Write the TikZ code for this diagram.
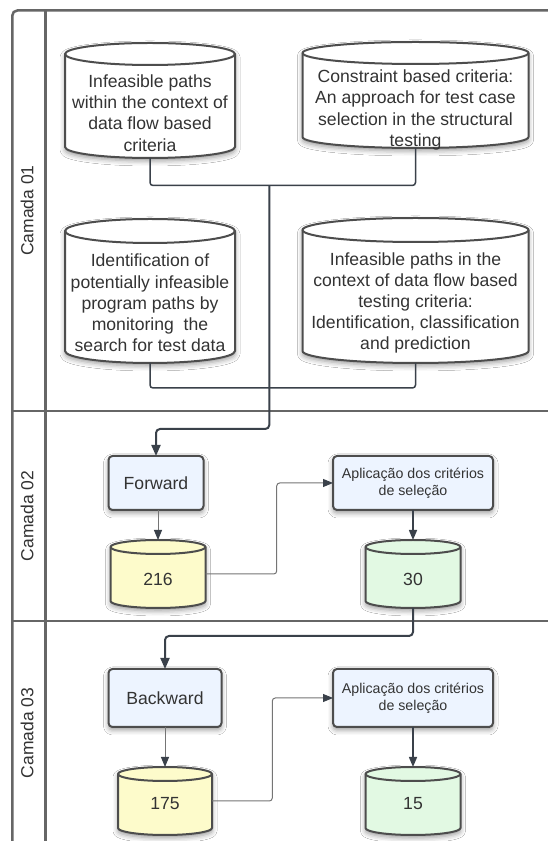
\documentclass[tikz,border=0pt]{standalone}
\usepackage{fontspec}
\setmainfont{Liberation Sans}
\usetikzlibrary{arrows.meta,shadows.blur,calc}

\definecolor{framegray}{HTML}{666666}
\definecolor{inkdark}{HTML}{3A414A}
\definecolor{inkgray}{HTML}{757575}
\definecolor{shapeline}{HTML}{4D4D4D}
\definecolor{txt}{HTML}{333333}
\definecolor{boxblue}{HTML}{EDF4FF}
\definecolor{drumyellow}{HTML}{FDFBCB}
\definecolor{drumgreen}{HTML}{E2F9E3}

\tikzset{
  softshadow/.style={blur shadow={shadow xshift=0pt, shadow yshift=-3pt, shadow blur radius=5pt, shadow opacity=40}},
  frameline/.style={draw=framegray, line width=2.5pt},
  drumframe/.style={rectangle, draw=none, inner sep=0pt, outer sep=0pt},
  drumline/.style={draw=shapeline, line width=2pt},
  bigtext/.style={text=txt, align=center, font=\fontsize{17.6}{21.2}\selectfont},
  smalltext/.style={text=txt, align=center, font=\fontsize{14.2}{17.3}\selectfont},
  stepbox/.style={rectangle, rounded corners=4pt, fill=boxblue, draw=shapeline, line width=2pt, inner sep=0pt, outer sep=0pt, softshadow},
  lanelabel/.style={text=txt, rotate=90, font=\fontsize{17.5}{21}\selectfont},
  feed/.style={draw=inkdark, line width=1.5pt, rounded corners=3pt},
  mainflow/.style={draw=inkdark, line width=2pt, rounded corners=4pt, -{Triangle[length=11pt,width=9pt]}},
  thinflow/.style={draw=inkgray, line width=1pt, rounded corners=3pt, -{Triangle[length=10pt,width=8pt,color=inkdark]}},
  midflow/.style={draw=inkdark, line width=1.5pt, -{Triangle[length=10pt,width=8pt]}},
}

% data store drawn as a cylinder: name, x, y, width, height, cap radius, fill
\newcommand\drum[7]{%
  \node[drumframe, minimum width=#4pt, minimum height=#5pt] (#1) at (#2,#3) {};
  \path[drumline, fill=#7, softshadow]
    ([yshift=-#6pt]#1.north west) arc[start angle=180, end angle=0, x radius=#4pt/2, y radius=#6pt]
    -- ([yshift=#6pt]#1.south east) arc[start angle=0, end angle=-180, x radius=#4pt/2, y radius=#6pt]
    -- cycle;
  \draw[drumline] ([yshift=-#6pt]#1.north west) arc[start angle=180, end angle=360, x radius=#4pt/2, y radius=#6pt];
}

\begin{document}
\begin{tikzpicture}[x=1pt,y=1pt]
\useasboundingbox (0,0) rectangle (548,841);
\fill[white] (0,0) rectangle (548,841);

% swimlane frame
\begin{scope}
\clip (0,0) rectangle (548,841);
\draw[frameline, rounded corners=5pt] (12.3,-10) -- (12.3,830.5) -- (560,830.5);
\draw[frameline] (45.5,830.5) -- (45.5,-10);
\draw[frameline] (12.3,430) -- (560,430);
\draw[frameline] (12.3,220) -- (560,220);
\end{scope}

\node[lanelabel] (lane1) at (27,630.5) {Camada 01};
\node[lanelabel] (lane2) at (27,325) {Camada 02};
\node[lanelabel] (lane3) at (27,108) {Camada 03};

% layer 1: source studies
\drum{c1}{150}{740.5}{170}{115}{11}{white}
\drum{c2}{415.5}{746}{226}{106}{11}{white}
\drum{c3}{150}{550}{170}{144}{12}{white}
\drum{c4}{415.5}{550.5}{226}{145}{12}{white}

\node[bigtext] (c1t) at (150,728) {Infeasible paths\\within the context of\\data flow based\\criteria};
\node[bigtext] (c2t) at (415.5,731) {Constraint based criteria:\\An approach for test case\\selection in the structural\\testing};
\node[bigtext] (c3t) at (150,538) {Identification of\\potentially infeasible\\program paths by\\monitoring~ the\\search for test data};
\node[bigtext] (c4t) at (415.5,538) {Infeasible paths in the\\context of data flow based\\testing criteria:\\Identification, classification\\and prediction};

% layer 2: forward snowballing
\node[stepbox, bigtext, minimum width=95pt, minimum height=54pt] (fwd) at (156,358) {Forward};
\node[stepbox, smalltext, minimum width=160pt, minimum height=54pt] (apl1) at (413,358) {Aplicação dos critérios\\de seleção};
\drum{d216}{158}{267}{95}{68}{7}{drumyellow}
\drum{d30}{413}{267}{95}{68}{7}{drumgreen}
\node[bigtext] (d216t) at (158,262) {216};
\node[bigtext] (d30t) at (413,262) {30};

% layer 3: backward snowballing
\node[stepbox, bigtext, minimum width=113pt, minimum height=58pt] (bwd) at (165,143) {Backward};
\node[stepbox, smalltext, minimum width=160pt, minimum height=58pt] (apl2) at (413,143) {Aplicação dos critérios\\de seleção};
\drum{d175}{165}{40}{94}{68}{7}{drumyellow}
\drum{d15}{413}{40}{95}{68}{7}{drumgreen}
\node[bigtext] (d175t) at (165,37.7) {175};
\node[bigtext] (d15t) at (413,37.7) {15};

% connectors
\coordinate (jt) at (269.3,655.5);
\coordinate (jb) at (269.3,453);
\coordinate (bend1) at (269.3,412);
\coordinate (bend2) at (413,205);
\draw[feed] (c1.south) |- (jt) -| (c2.south);
\draw[feed] (c3.south) |- (jb) -| (c4.south);
\draw[mainflow] (jt) -- (bend1) -| (fwd.north);
\draw[thinflow] (fwd.south -| d216.north) -- (d216.north);
\draw[thinflow] (d216.east) -- ++(71.2,0) |- (apl1.west);
\draw[midflow] (apl1.south) -- (d30.north);
\draw[mainflow] (d30.south) -- (bend2) -| (bwd.north);
\draw[thinflow] (bwd.south) -- (d175.north);
\draw[thinflow] (d175.east) -- ++(60.3,0) |- (apl2.west);
\draw[midflow] (apl2.south) -- (d15.north);
\end{tikzpicture}
\end{document}
